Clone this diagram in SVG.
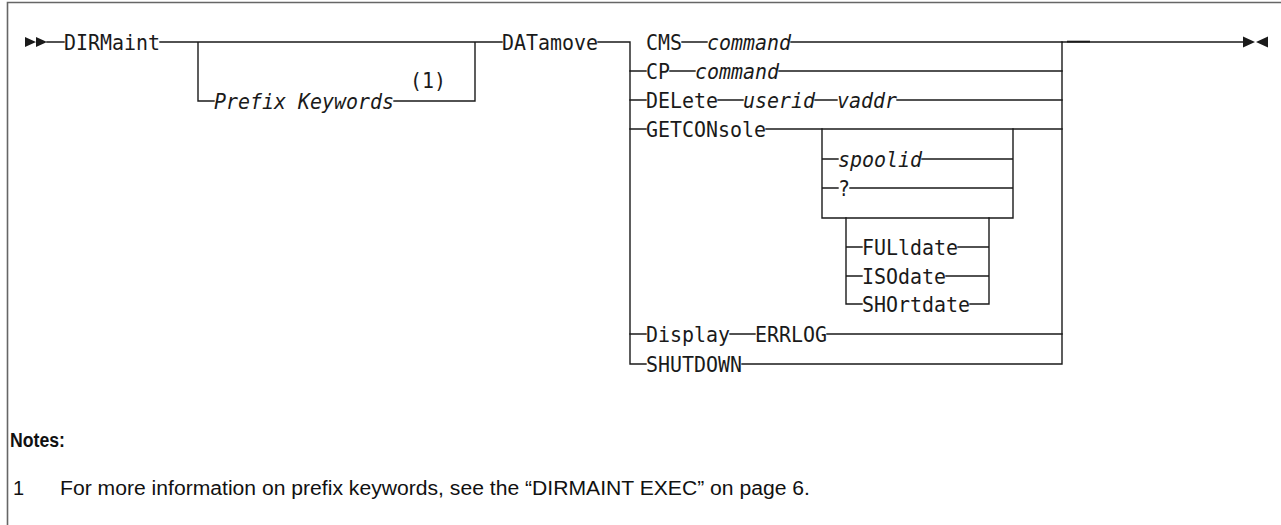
<svg xmlns="http://www.w3.org/2000/svg" width="1281" height="525" viewBox="0 0 1281 525">
<style>
.ln{fill:none;stroke:#1a1a1a;stroke-width:1.4;stroke-linecap:square}
.kw{font-family:"DejaVu Sans Mono","Liberation Mono",monospace;font-size:22px;fill:#1a1a1a}
.it{font-family:"DejaVu Sans Mono","Liberation Mono",monospace;font-size:22px;font-style:italic;fill:#1a1a1a}
.note{font-family:"Liberation Sans",Arial,sans-serif;fill:#111}
.arr{fill:#1a1a1a}
</style>
<rect width="1281" height="525" fill="#fff"/>
<g id="frame"><path d="M7.5 525 V2.5 H1281" fill="none" stroke="#666" stroke-width="1.6"/></g>

<g id="connectors">
<path class="ln" d="M47 42 H64 M160 42 H502 M198 42 V101 H214 M394 101 H475 V42 M598 42 H630 V364 H646"/>
<path class="ln" d="M630 71 H646 M630 100 H646 M630 129 H646 M630 334 H646"/>
<path class="ln" d="M682 42 H707 M791 42 H1062"/>
<path class="ln" d="M670 71 H695 M779 71 H1062"/>
<path class="ln" d="M718 100 H743 M815 100 H837 M897 100 H1062"/>
<path class="ln" d="M766 129 H1062"/>
<path class="ln" d="M822 129 V218 H1013 V129 M822 159 H838 M922 159 H1013 M822 188 H838 M850 188 H1013"/>
<path class="ln" d="M846 218 V304 H862 M970 304 H989 V218 M846 247 H862 M958 247 H989 M846 276 H862 M946 276 H989"/>
<path class="ln" d="M730 334 H755 M827 334 H1062"/>
<path class="ln" d="M742 364 H1062 V42 H1243"/>
<path d="M1067 41.6 H1090" stroke="#1a1a1a" stroke-width="1.8"/>
</g>

<g id="start"><path class="arr" d="M25 37 L36 42 L25 47 Z M36 37 L47 42 L36 47 Z"/></g>
<g id="end"><path class="arr" d="M1243 36.5 L1255 42 L1243 47.5 Z M1268 36.5 L1256 42 L1268 47.5 Z"/></g>

<g id="dirmaint"><text class="kw" x="64" y="50" textLength="96" lengthAdjust="spacingAndGlyphs">DIRMaint</text></g>
<g id="prefix"><text class="it" x="214" y="109" textLength="180" lengthAdjust="spacingAndGlyphs">Prefix Keywords</text><text class="kw" x="410" y="88" textLength="36" lengthAdjust="spacingAndGlyphs">(1)</text></g>
<g id="datamove"><text class="kw" x="502" y="50" textLength="96" lengthAdjust="spacingAndGlyphs">DATamove</text></g>
<g id="cms"><text class="kw" x="646" y="50" textLength="36" lengthAdjust="spacingAndGlyphs">CMS</text><text class="it" x="707" y="50" textLength="84" lengthAdjust="spacingAndGlyphs">command</text></g>
<g id="cp"><text class="kw" x="646" y="79" textLength="24" lengthAdjust="spacingAndGlyphs">CP</text><text class="it" x="695" y="79" textLength="84" lengthAdjust="spacingAndGlyphs">command</text></g>
<g id="delete"><text class="kw" x="646" y="108" textLength="72" lengthAdjust="spacingAndGlyphs">DELete</text><text class="it" x="743" y="108" textLength="72" lengthAdjust="spacingAndGlyphs">userid</text><text class="it" x="837" y="108" textLength="60" lengthAdjust="spacingAndGlyphs">vaddr</text></g>
<g id="getconsole"><text class="kw" x="646" y="137" textLength="120" lengthAdjust="spacingAndGlyphs">GETCONsole</text></g>
<g id="spoolid"><text class="it" x="838" y="167" textLength="84" lengthAdjust="spacingAndGlyphs">spoolid</text></g>
<g id="question"><text class="kw" x="838" y="196" textLength="12" lengthAdjust="spacingAndGlyphs">?</text></g>
<g id="fulldate"><text class="kw" x="862" y="255" textLength="96" lengthAdjust="spacingAndGlyphs">FULldate</text></g>
<g id="isodate"><text class="kw" x="862" y="284" textLength="84" lengthAdjust="spacingAndGlyphs">ISOdate</text></g>
<g id="shortdate"><text class="kw" x="862" y="312" textLength="108" lengthAdjust="spacingAndGlyphs">SHOrtdate</text></g>
<g id="display"><text class="kw" x="646" y="342" textLength="84" lengthAdjust="spacingAndGlyphs">Display</text><text class="kw" x="755" y="342" textLength="72" lengthAdjust="spacingAndGlyphs">ERRLOG</text></g>
<g id="shutdown"><text class="kw" x="646" y="372" textLength="96" lengthAdjust="spacingAndGlyphs">SHUTDOWN</text></g>

<g id="notes">
<text class="note" x="10" y="447" font-size="20" font-weight="bold" textLength="55" lengthAdjust="spacingAndGlyphs">Notes:</text>
<text class="note" x="13" y="495" font-size="20">1</text>
<text class="note" x="60" y="495" font-size="20" textLength="750" lengthAdjust="spacingAndGlyphs">For more information on prefix keywords, see the “DIRMAINT EXEC” on page 6.</text>
</g>
</svg>
